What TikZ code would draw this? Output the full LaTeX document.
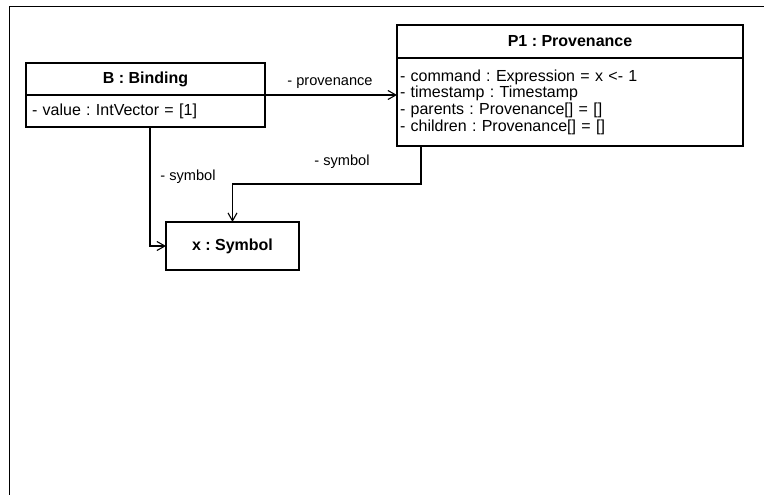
\documentclass[tikz,border=0pt]{standalone}
\usepackage{fontspec}
\setmainfont{Liberation Sans}
\usetikzlibrary{arrows.meta,calc}
\frenchspacing
\begin{document}
\begin{tikzpicture}[x=1pt,y=-1pt,
  compartment/.style={draw,line width=1.1pt,inner ysep=0pt,outer sep=0pt,anchor=north west},
  header/.style={compartment,align=center,inner xsep=0pt,font=\fontsize{16}{18}\selectfont\bfseries},
  fields/.style={compartment,align=left,font=\fontsize{16}{16.7}\selectfont},
  role/.style={font=\fontsize{14.6}{16}\selectfont,inner sep=0pt},
  assoc/.style={line width=1.1pt,-{Straight Barb[length=8pt,width=9pt,line width=1.1pt]}}]
\useasboundingbox (0,0) rectangle (764,495);

% diagram frame
\draw[line width=1.6pt] (9.5,495) -- (9.5,6.5) -- (764,6.5);

% B : Binding
\node[header,minimum width=239pt,minimum height=32pt] (Bh) at (26,63) {B : Binding};
\node[fields,text width=227pt,inner xsep=6pt,minimum height=32pt] (Ba) at (Bh.south west) {- value : IntVector = [1]};

% P1 : Provenance
\node[header,minimum width=346pt,minimum height=33pt] (Ph) at (397,25) {P1 : Provenance};
\node[fields,text width=340pt,inner xsep=3pt,minimum height=88pt] (Pa) at (Ph.south west)
  {- command : Expression = x <- 1\\- timestamp : Timestamp\\- parents : Provenance[] = []\\- children : Provenance[] = []};

% x : Symbol
\node[header,minimum width=133pt,minimum height=48pt] (S) at (166,222) {x : Symbol};

% associations
\draw[assoc] (Bh.south east) -- (Bh.south east -| Pa.west);
\node[role] (lprov) at (330,83) {- provenance};

\coordinate (bsym) at ($(Ba.south west)+(124,0)$);
\draw[assoc] (bsym) |- (S.west);
\node[role] (lsym1) at (188,177) {- symbol};

\coordinate (psym) at ($(Pa.south west)+(24,0)$);
\coordinate (pbend) at ($(psym)+(0,38)$);
\draw[assoc] (psym) -- (pbend) -| (S.north);
\node[role] (lsym2) at (342,162) {- symbol};
\end{tikzpicture}
\end{document}
